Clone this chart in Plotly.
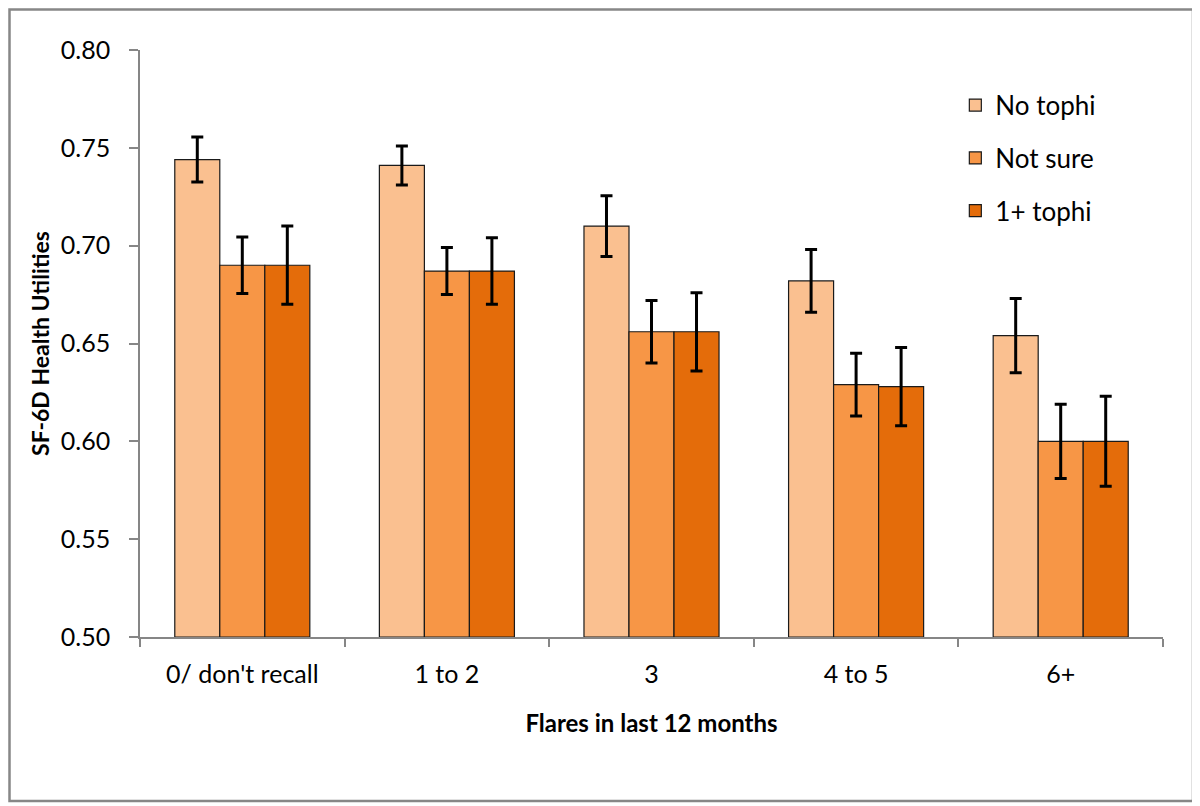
import plotly.graph_objects as go

categories = ["0/ don't recall", "1 to 2", "3", "4 to 5", "6+"]
series_names = ["No tophi", "Not sure", "1+ tophi"]
no_tophi = [0.744, 0.741, 0.710, 0.682, 0.654]
no_tophi_err = [0.0115, 0.010, 0.0155, 0.016, 0.019]
not_sure = [0.690, 0.687, 0.656, 0.629, 0.600]
not_sure_err = [0.0144, 0.012, 0.016, 0.016, 0.019]
one_plus = [0.690, 0.687, 0.656, 0.628, 0.600]
one_plus_err = [0.020, 0.017, 0.020, 0.020, 0.023]
y_ticks = [0.50, 0.55, 0.60, 0.65, 0.70, 0.75, 0.80]

colors = ["#FAC090", "#F79646", "#E46C0A"]
FONT = "Lato"

# page has an 8px body margin: figure coords = page coords - 8
W, H = 1192, 798
L, T = 132, 42
PW, PH = 1023, 587

fig = go.Figure()
for i, (name, vals, errs) in enumerate(zip(series_names,
                                           [no_tophi, not_sure, one_plus],
                                           [no_tophi_err, not_sure_err, one_plus_err])):
    fig.add_trace(go.Bar(
        x=categories, y=[v - 0.5 for v in vals], base=0.5, name=name,
        marker=dict(color=colors[i], line=dict(color="#1a1a1a", width=1.2)),
        error_y=dict(type="data", array=errs, visible=True, color="black",
                     thickness=3, width=6),
        legendgroup=name,
    ))

fig.update_layout(
    width=W, height=H,
    margin=dict(l=L, r=W - L - PW, t=T, b=H - T - PH),
    paper_bgcolor="white", plot_bgcolor="white",
    barmode="group", bargap=0.34, bargroupgap=0,
    font=dict(family=FONT, color="#000000", size=25),
    showlegend=True,
    legend=dict(x=0.797, y=0.946, xanchor="left", yanchor="top",
                traceorder="grouped", tracegroupgap=16,
                font=dict(family=FONT, size=26, color="#000000"),
                bgcolor="rgba(0,0,0,0)"),
    xaxis=dict(
        type="category", showline=True, linecolor="#868686", linewidth=1.5,
        ticks="outside", tickson="boundaries", ticklen=8, tickcolor="#868686",
        tickwidth=1.5, showgrid=False, ticklabelstandoff=14,
        tickfont=dict(family=FONT, size=25, color="#000000"),
        title=dict(text="<b>Flares in last 12 months</b>", standoff=28,
                   font=dict(family=FONT, size=24, color="#000000")),
    ),
    yaxis=dict(
        range=[0.5, 0.8], tickvals=y_ticks, tickformat=".2f",
        showline=True, linecolor="#868686", linewidth=1.5,
        ticks="outside", ticklen=9, tickcolor="#868686", tickwidth=1.5,
        showgrid=False, zeroline=False, ticklabelstandoff=14,
        tickfont=dict(family=FONT, size=25, color="#000000"),
        title=dict(text="<b>SF-6D Health Utilities</b>", standoff=5,
                   font=dict(family=FONT, size=23, color="#000000")),
    ),
)

# outer chart border
fig.add_shape(type="rect", xref="paper", yref="paper",
              x0=(1.5 - L) / PW, x1=(1185 - L) / PW,
              y0=(T + PH - 793) / PH, y1=(T + PH - 1.5) / PH,
              line=dict(color="#878787", width=2.5), fillcolor="rgba(0,0,0,0)",
              layer="below")

fig.write_html("out.html")
